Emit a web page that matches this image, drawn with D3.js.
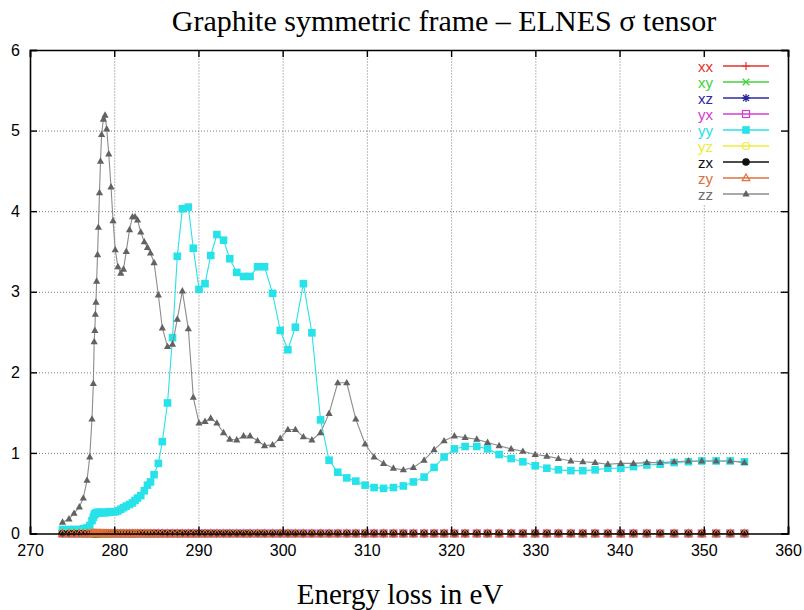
<!DOCTYPE html>
<html>
<head>
<meta charset="utf-8">
<script src="https://cdn.jsdelivr.net/npm/d3@7"></script>
<style>
  body { margin: 0; background: #ffffff; }
  svg { display: block; }
</style>
</head>
<body>
<svg id="chart" width="804" height="610"></svg>
<script>
// Energy grid (eV), shared by every tensor component
const energy = [
  273.86, 274.63, 275.23, 275.86, 276.33, 276.77, 277.09, 277.36, 277.52, 277.62,
  277.70, 277.76, 277.83, 277.91, 278.02, 278.12, 278.25, 278.37, 278.50, 278.71,
  278.91, 279.11, 279.35, 279.62, 279.86, 280.12, 280.44, 280.78, 281.10, 281.43,
  281.82, 282.17, 282.47, 282.77, 283.15, 283.57, 283.95, 284.31, 284.73, 285.24,
  285.71, 286.33, 286.92, 287.49, 288.09, 288.80, 289.39, 290.07, 290.78, 291.46,
  292.19, 292.98, 293.72, 294.55, 295.36, 296.13, 297.02, 297.85, 298.80, 299.71,
  300.62, 301.51, 302.46, 303.47, 304.50, 305.51, 306.54, 307.61, 308.68, 309.79,
  310.86, 311.98, 313.15, 314.33, 315.52, 316.79, 317.98, 319.17, 320.39, 321.66,
  323.05, 324.33, 325.70, 327.13, 328.52, 329.98, 331.37, 332.74, 334.22, 335.64,
  337.10, 338.61, 340.15, 341.65, 343.24, 344.82, 346.48, 348.18, 349.77, 351.47,
  353.14, 354.83
];

// sigma_yy
const yyValues = [
  0.05, 0.05, 0.05, 0.05, 0.06, 0.07, 0.10, 0.16, 0.20, 0.23,
  0.24, 0.25, 0.25, 0.26, 0.26, 0.26, 0.26, 0.26, 0.26, 0.26,
  0.26, 0.26, 0.27, 0.27, 0.27, 0.27, 0.28, 0.30, 0.32, 0.34,
  0.36, 0.38, 0.41, 0.44, 0.47, 0.53, 0.60, 0.64, 0.73, 0.87,
  1.14, 1.62, 2.43, 3.44, 4.03, 4.05, 3.54, 3.03, 3.10, 3.45,
  3.71, 3.64, 3.41, 3.24, 3.19, 3.19, 3.31, 3.31, 2.98, 2.52,
  2.28, 2.56, 3.10, 2.49, 1.41, 0.91, 0.76, 0.69, 0.65, 0.60,
  0.57, 0.56, 0.57, 0.59, 0.64, 0.70, 0.82, 0.95, 1.05, 1.08,
  1.08, 1.05, 0.98, 0.93, 0.89, 0.84, 0.81, 0.79, 0.78, 0.78,
  0.79, 0.81, 0.81, 0.83, 0.85, 0.86, 0.88, 0.89, 0.90, 0.90,
  0.90, 0.89
];

// sigma_zz
const zzValues = [
  0.14, 0.18, 0.25, 0.33, 0.44, 0.66, 0.95, 1.42, 1.86, 2.38,
  2.52, 2.72, 2.87, 3.13, 3.46, 3.80, 4.23, 4.62, 4.95, 5.14,
  5.19, 5.02, 4.71, 4.30, 3.88, 3.52, 3.31, 3.23, 3.28, 3.50,
  3.77, 3.93, 3.93, 3.89, 3.74, 3.62, 3.55, 3.48, 3.36, 2.96,
  2.55, 2.32, 2.35, 2.66, 3.01, 2.54, 1.69, 1.37, 1.39, 1.43,
  1.37, 1.25, 1.17, 1.16, 1.21, 1.21, 1.15, 1.09, 1.10, 1.18,
  1.29, 1.29, 1.20, 1.16, 1.25, 1.49, 1.87, 1.87, 1.42, 1.11,
  0.95, 0.87, 0.81, 0.79, 0.82, 0.91, 1.04, 1.15, 1.21, 1.19,
  1.17, 1.13, 1.09, 1.05, 1.02, 0.98, 0.96, 0.93, 0.90, 0.89,
  0.88, 0.86, 0.87, 0.87, 0.88, 0.88, 0.89, 0.90, 0.90, 0.90,
  0.90, 0.88
];

// Components that vanish over the whole range
const xxValues = new Array(energy.length).fill(0);
const xyValues = new Array(energy.length).fill(0);
const xzValues = new Array(energy.length).fill(0);
const yxValues = new Array(energy.length).fill(0);
const yzValues = new Array(energy.length).fill(0);
const zxValues = new Array(energy.length).fill(0);
const zyValues = new Array(energy.length).fill(0);

const componentNames = ["xx", "xy", "xz", "yx", "yy", "yz", "zx", "zy", "zz"];
const componentValues = [xxValues, xyValues, xzValues, yxValues, yyValues, yzValues, zxValues, zyValues, zzValues];

const xTicks = [270, 280, 290, 300, 310, 320, 330, 340, 350, 360];
const yTicks = [0, 1, 2, 3, 4, 5, 6];

// Drawing styles per component
const styles = {
  xx: { line: "#e3342c", text: "#e3342c", marker: "plus" },
  xy: { line: "#44d23a", text: "#44d23a", marker: "cross" },
  xz: { line: "#2b2ba0", text: "#2b2ba0", marker: "star" },
  yx: { line: "#d43cd4", text: "#d43cd4", marker: "openSquare" },
  yy: { line: "#27e2e9", text: "#27e2e9", marker: "filledSquare" },
  yz: { line: "#ecec3a", text: "#ecec3a", marker: "openCircle" },
  zx: { line: "#111111", text: "#111111", marker: "filledCircle" },
  zy: { line: "#e0703c", text: "#e0703c", marker: "openTriangle" },
  zz: { line: "#8c8c8c", text: "#6e6e6e", marker: "filledTriangle", markerFill: "#626262" }
};

const svg = d3.select("#chart");
const plot = { left: 30, right: 788, top: 50, bottom: 533.5 };

const x = d3.scaleLinear().domain([270, 360]).range([plot.left, plot.right]);
const y = d3.scaleLinear().domain([0, 6]).range([plot.bottom, plot.top]);

const sansFont = "'Liberation Sans', Arial, Helvetica, sans-serif";
const serifFont = "'Liberation Serif', 'Times New Roman', Times, serif";

// Dotted grid at the inner ticks
const grid = svg.append("g").attr("class", "grid");
grid.append("g")
  .attr("transform", `translate(0,${plot.bottom})`)
  .call(d3.axisBottom(x).tickValues(xTicks.slice(1, -1)).tickSize(-(plot.bottom - plot.top)).tickFormat(""))
  .call(g => g.select(".domain").remove());
grid.append("g")
  .attr("transform", `translate(${plot.left},0)`)
  .call(d3.axisLeft(y).tickValues(yTicks.slice(1, -1)).tickSize(-(plot.right - plot.left)).tickFormat(""))
  .call(g => g.select(".domain").remove());
grid.selectAll("line")
  .attr("stroke", "#7a7a7a")
  .attr("stroke-width", 1)
  .attr("stroke-dasharray", "1,2");

// Key area sits on a blank patch
const key = { x0: 693, y0: plot.top + 1, x1: plot.right - 1, y1: 204 };
svg.append("rect")
  .attr("x", key.x0).attr("y", key.y0)
  .attr("width", key.x1 - key.x0).attr("height", key.y1 - key.y0)
  .attr("fill", "#ffffff");

// Marker shapes
function drawMarker(g, kind, cx, cy, color, fill) {
  const m = g.append("g").attr("transform", `translate(${cx},${cy})`);
  switch (kind) {
    case "plus":
      m.append("path").attr("d", "M-4,0H4M0,-4V4").attr("stroke", color).attr("stroke-width", 1.2).attr("fill", "none");
      break;
    case "cross":
      m.append("path").attr("d", "M-3.3,-3.3L3.3,3.3M-3.3,3.3L3.3,-3.3").attr("stroke", color).attr("stroke-width", 1.3).attr("fill", "none");
      break;
    case "star":
      m.append("path").attr("d", "M-4,0H4M0,-4V4M-3,-3L3,3M-3,3L3,-3").attr("stroke", color).attr("stroke-width", 1.3).attr("fill", "none");
      break;
    case "openSquare":
      m.append("rect").attr("x", -3.5).attr("y", -3.5).attr("width", 7).attr("height", 7)
        .attr("fill", "none").attr("stroke", color).attr("stroke-width", 1.2);
      break;
    case "filledSquare":
      m.append("rect").attr("x", -3.8).attr("y", -3.8).attr("width", 7.6).attr("height", 7.6).attr("fill", color);
      break;
    case "openCircle":
      m.append("circle").attr("r", 3.5).attr("fill", "none").attr("stroke", color).attr("stroke-width", 1.2);
      break;
    case "filledCircle":
      m.append("circle").attr("r", 3.8).attr("fill", color);
      break;
    case "openTriangle":
      m.append("path").attr("d", "M0,-4L3.8,2.6L-3.8,2.6Z").attr("fill", "none").attr("stroke", color).attr("stroke-width", 1.2);
      break;
    case "filledTriangle":
      m.append("path").attr("d", "M0,-3.9L3.6,2.5L-3.6,2.5Z").attr("fill", fill || color);
      break;
  }
}

// Series: lines with point markers
const line = d3.line().x(d => x(d[0])).y(d => y(d[1]));
const seriesLayer = svg.append("g").attr("class", "series");
componentNames.forEach((name, i) => {
  const st = styles[name];
  const pts = energy.map((e, j) => [e, componentValues[i][j]]);
  const g = seriesLayer.append("g").attr("class", `series-${name}`);
  g.append("path")
    .attr("d", line(pts))
    .attr("fill", "none")
    .attr("stroke", st.line)
    .attr("stroke-width", 1.1);
  pts.forEach(p => drawMarker(g, st.marker, x(p[0]), y(p[1]), st.line, st.markerFill));
});

// Frame with inward ticks on all four sides
const axes = svg.append("g").attr("class", "axes");
axes.append("g")
  .attr("transform", `translate(0,${plot.bottom})`)
  .call(d3.axisBottom(x).tickValues(xTicks).tickSize(-7).tickPadding(11).tickFormat(d3.format("d")));
axes.append("g")
  .attr("transform", `translate(0,${plot.top})`)
  .call(d3.axisTop(x).tickValues(xTicks).tickSize(-7).tickFormat(""));
axes.append("g")
  .attr("transform", `translate(${plot.left},0)`)
  .call(d3.axisLeft(y).tickValues(yTicks).tickSize(-7).tickPadding(10).tickFormat(d3.format("d")));
axes.append("g")
  .attr("transform", `translate(${plot.right},0)`)
  .call(d3.axisRight(y).tickValues(yTicks).tickSize(-7).tickFormat(""));

axes.selectAll(".domain").attr("stroke", "#000").attr("stroke-width", 1.6);
axes.selectAll(".tick line").attr("stroke", "#000").attr("stroke-width", 1.4);
axes.selectAll(".tick text")
  .attr("fill", "#000")
  .style("font-family", sansFont)
  .style("font-size", "16px");

// Key
const keyLayer = svg.append("g").attr("class", "key");
componentNames.forEach((name, i) => {
  const st = styles[name];
  const cy = 66 + i * 16;
  keyLayer.append("text")
    .attr("x", 713).attr("y", cy)
    .attr("text-anchor", "end")
    .attr("dominant-baseline", "central")
    .attr("fill", st.text)
    .style("font-family", sansFont)
    .style("font-size", "15px")
    .text(name);
  keyLayer.append("line")
    .attr("x1", 723).attr("x2", 769)
    .attr("y1", cy).attr("y2", cy)
    .attr("stroke", st.line).attr("stroke-width", 1.3);
  drawMarker(keyLayer, st.marker, 746, cy, st.line, st.markerFill);
});

// Title and axis label
svg.append("text")
  .attr("x", 444).attr("y", 31)
  .attr("text-anchor", "middle")
  .style("font-family", serifFont)
  .style("font-size", "30px")
  .attr("fill", "#000")
  .text("Graphite symmetric frame \u2013 ELNES \u03C3 tensor");

svg.append("text")
  .attr("x", 400).attr("y", 604)
  .attr("text-anchor", "middle")
  .style("font-family", serifFont)
  .style("font-size", "29px")
  .attr("fill", "#000")
  .text("Energy loss in eV");
</script>
</body>
</html>
